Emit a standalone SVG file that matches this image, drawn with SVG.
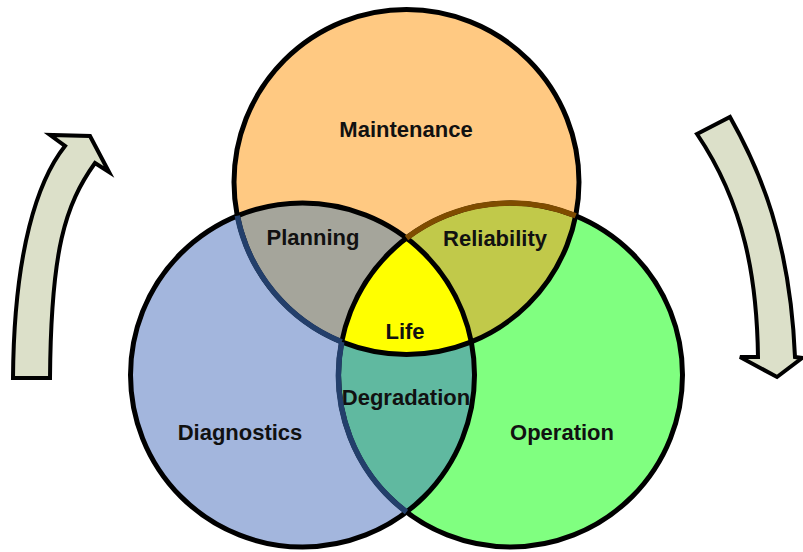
<svg xmlns="http://www.w3.org/2000/svg" width="803" height="552" viewBox="0 0 803 552">
  <style>
    .lbl { font-family: "Liberation Sans", Arial, sans-serif; font-weight: bold; font-size: 22px; fill: #111; text-anchor: middle; }
    .outline { fill: none; stroke: #000; stroke-width: 5; }
    .arrow { fill: #DCE0C9; stroke: #000; stroke-width: 4; stroke-linejoin: miter; }
  </style>
  <defs>
    <clipPath id="clipM"><circle cx="406.5" cy="182" r="172.5"/></clipPath>
    <clipPath id="clipD"><circle cx="302.5" cy="375" r="172"/></clipPath>
    <clipPath id="clipO"><circle cx="510.5" cy="375" r="172"/></clipPath>
  </defs>

  <g id="arrow-left">
    <path class="arrow" d="M 13 378 L 50 378 C 51 250, 65 205, 95 163 L 109 172 L 90 136 L 50 135 L 65 146 C 38 180, 14 250, 13 378 Z"/>
  </g>
  <g id="arrow-right">
    <path class="arrow" d="M 697 134 L 730 117 C 760 170, 790 240, 795 357 L 802 358 L 777 377 L 740 357 L 758 357 C 757 280, 745 205, 697 134 Z"/>
  </g>

  <g id="operation">
    <circle cx="510.5" cy="375" r="172" fill="#80FF80"/>
    <text class="lbl" x="562" y="440">Operation</text>
  </g>
  <g id="maintenance">
    <circle cx="406.5" cy="182" r="172.5" fill="#FFC982"/>
    <text class="lbl" x="406" y="137">Maintenance</text>
  </g>
  <g id="diagnostics">
    <circle cx="302.5" cy="375" r="172" fill="#A3B6DD"/>
    <text class="lbl" x="240" y="440">Diagnostics</text>
  </g>

  <g id="planning">
    <circle cx="302.5" cy="375" r="172" fill="#A5A59B" clip-path="url(#clipM)"/>
    <text class="lbl" x="313" y="245">Planning</text>
  </g>
  <g id="reliability">
    <circle cx="510.5" cy="375" r="172" fill="#C1C94A" clip-path="url(#clipM)"/>
    <text class="lbl" x="495" y="246">Reliability</text>
  </g>
  <g id="degradation">
    <circle cx="510.5" cy="375" r="172" fill="#60B9A0" clip-path="url(#clipD)"/>
    <text class="lbl" x="406" y="405">Degradation</text>
  </g>
  <g id="life">
    <g clip-path="url(#clipD)">
      <circle cx="406.5" cy="182" r="172.5" fill="#FFFF00" clip-path="url(#clipO)"/>
    </g>
    <text class="lbl" x="405" y="339">Life</text>
  </g>

  <g id="connectors">
    <circle class="outline" cx="510.5" cy="375" r="172"/>
    <circle class="outline" cx="406.5" cy="182" r="172.5"/>
    <circle class="outline" cx="302.5" cy="375" r="172"/>
    <path d="M 237.3 215.8 A 172.5 172.5 0 0 0 341.7 341.9" fill="none" stroke="#233F6B" stroke-width="5.5"/>
    <path d="M 341.7 341.9 A 172 172 0 0 0 406.5 512" fill="none" stroke="#233F6B" stroke-width="5.5"/>
    <path d="M 575.7 215.8 A 172 172 0 0 0 406.5 238" fill="none" stroke="#7F4C00" stroke-width="5.5"/>
  </g>
</svg>
